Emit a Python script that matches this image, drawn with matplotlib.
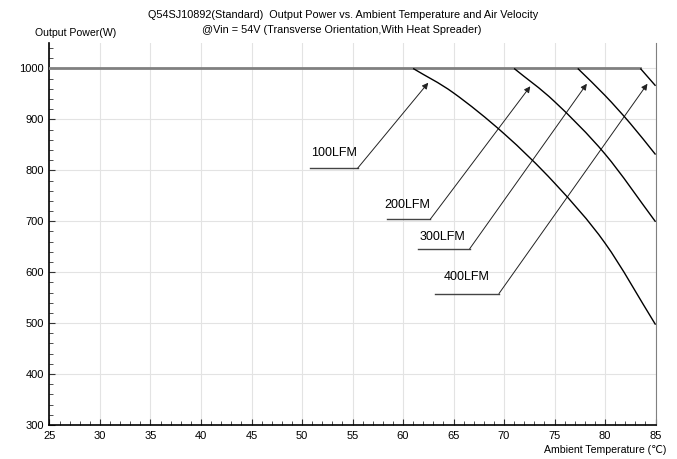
import matplotlib.pyplot as plt
from matplotlib.path import Path
from matplotlib.patches import PathPatch
from matplotlib.ticker import MultipleLocator

plt.rcParams['font.family'] = ['Liberation Sans', 'DejaVu Sans']

# derating curves (temperature in C, power in W)
flat_t = [25, 83.5]
flat_p = [1000, 1000]

lfm100_t = [61, 65, 70, 75, 80, 85]
lfm100_p = [1000, 952, 872, 775, 657, 497]

lfm200_t = [71, 75, 80, 85]
lfm200_p = [1000, 935, 832, 699]

lfm300_t = [77.3, 80, 82.5, 85]
lfm300_p = [1000, 947, 892, 831]

lfm400_t = [83.5, 85]
lfm400_p = [1000, 966]

# labels: text, text pos, underline start/end, arrow tip
labels = ['100LFM', '200LFM', '300LFM', '400LFM']
label_xy = [(53.2, 835), (60.4, 732), (63.9, 669), (66.3, 591)]
line_start = [(50.8, 804), (58.4, 704), (61.5, 646), (63.2, 558)]
line_end = [(55.5, 804), (62.7, 704), (66.6, 646), (69.5, 558)]
arrow_tip = [(62.5, 972), (72.6, 965), (78.2, 970), (84.2, 970)]


def smooth_line(ax, xs, ys, **kw):
    # smoothed line through the points, like a spreadsheet "smooth line"
    pts = list(zip(xs, ys))
    verts = [pts[0]]
    codes = [Path.MOVETO]
    n = len(pts)
    for i in range(n - 1):
        p1 = pts[i]
        p2 = pts[i + 1]
        if i > 0:
            p0 = pts[i - 1]
        else:
            p0 = (2 * p1[0] - p2[0], 2 * p1[1] - p2[1])
        if i + 2 < n:
            p3 = pts[i + 2]
        else:
            p3 = (2 * p2[0] - p1[0], 2 * p2[1] - p1[1])
        c1 = (p1[0] + (p2[0] - p0[0]) / 6, p1[1] + (p2[1] - p0[1]) / 6)
        c2 = (p2[0] - (p3[0] - p1[0]) / 6, p2[1] - (p3[1] - p1[1]) / 6)
        verts += [c1, c2, p2]
        codes += [Path.CURVE4] * 3
    ax.add_patch(PathPatch(Path(verts, codes), fill=False, **kw))


fig = plt.figure(figsize=(6.77, 4.59), dpi=100)
ax = fig.add_axes([0.0731, 0.0741, 0.8952, 0.8322])

ax.plot(flat_t, flat_p, color='#808080', lw=2, zorder=3)
for t, p in [(lfm100_t, lfm100_p), (lfm200_t, lfm200_p),
             (lfm300_t, lfm300_p), (lfm400_t, lfm400_p)]:
    smooth_line(ax, t, p, edgecolor='black', lw=1, zorder=4)

for i in range(len(labels)):
    ax.plot([line_start[i][0], line_end[i][0]], [line_start[i][1], line_end[i][1]],
            color='#444444', lw=1)
    ax.annotate('', xy=arrow_tip[i], xytext=line_end[i],
                arrowprops=dict(arrowstyle='-|>', color='#222222', lw=0.7,
                                mutation_scale=9, shrinkA=0, shrinkB=0))
    ax.text(label_xy[i][0], label_xy[i][1], labels[i], fontsize=9,
            ha='center', va='center')

ax.set_xlim(25, 85)
ax.set_ylim(300, 1050)
ax.xaxis.set_major_locator(MultipleLocator(5))
ax.xaxis.set_minor_locator(MultipleLocator(1))
ax.yaxis.set_minor_locator(MultipleLocator(20))
ax.set_yticks(range(300, 1001, 100))
ax.tick_params(which='both', direction='in', labelsize=8, color='#333333')
ax.tick_params(which='major', length=4, pad=4)
ax.tick_params(which='minor', length=3)
ax.grid(True, which='major', color='#e3e3e3', lw=0.8)
ax.set_axisbelow(True)

ax.spines['top'].set_visible(False)
ax.spines['right'].set_color('#808080')
ax.spines['left'].set_linewidth(1.2)
ax.spines['bottom'].set_linewidth(1.2)

fig.text(0.507, 0.967, 'Q54SJ10892(Standard)  Output Power vs. Ambient Temperature and Air Velocity',
         ha='center', va='center', fontsize=7.8)
fig.text(0.505, 0.935, '@Vin = 54V (Transverse Orientation,With Heat Spreader)',
         ha='center', va='center', fontsize=7.8)
fig.text(0.052, 0.928, 'Output Power(W)', ha='left', va='center', fontsize=7.6)
fig.text(0.984, 0.020, 'Ambient Temperature (℃)', ha='right', va='center', fontsize=7.6)

fig.savefig('out.png', dpi=100)
